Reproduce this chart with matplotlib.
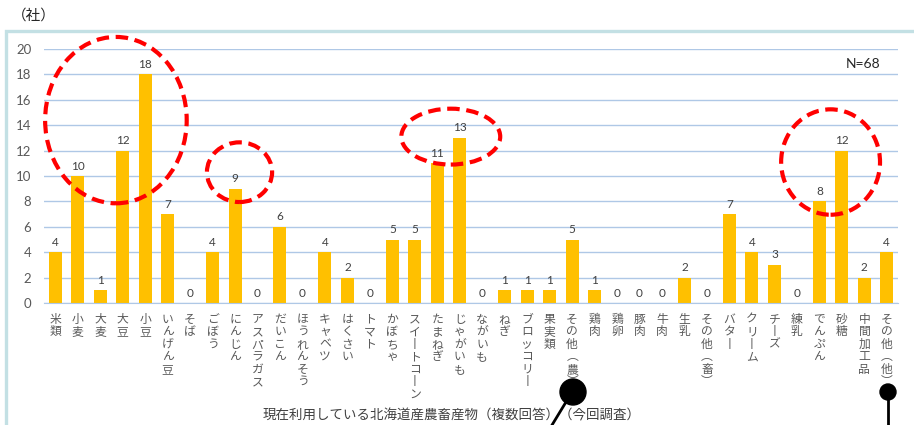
import matplotlib.pyplot as plt
from matplotlib.patches import Ellipse, Rectangle
from matplotlib.lines import Line2D

plt.rcParams["font.family"] = ["Noto Sans CJK JP", "DejaVu Sans"]

# 現在利用している北海道産農畜産物（複数回答）
categories = [
    "米類", "小麦", "大麦", "大豆", "小豆", "いんげん豆", "そば", "ごぼう",
    "にんじん", "アスパラガス", "だいこん", "ほうれんそう", "キャベツ", "はくさい",
    "トマト", "かぼちゃ", "スイートコーン", "たまねぎ", "じゃがいも", "ながいも",
    "ねぎ", "ブロッコリー", "果実類", "その他(農)", "鶏肉", "鶏卵", "豚肉", "牛肉",
    "生乳", "その他(畜)", "バター", "クリーム", "チーズ", "練乳", "でんぷん",
    "砂糖", "中間加工品", "その他(他)",
]
counts = [
    4, 10, 1, 12, 18, 7, 0, 4,
    9, 0, 6, 0, 4, 2,
    0, 5, 5, 11, 13, 0,
    1, 1, 1, 5, 1, 0, 0, 0,
    2, 0, 7, 4, 3, 0, 8,
    12, 2, 4,
]
n_total = 68

# highlighted groups: (center index, center value, width, height)
highlights = [
    (2.7, 14.4, 6.3, 13.1),
    (8.2, 10.3, 2.9, 4.7),
    (17.6, 13.1, 4.4, 4.4),
    (34.5, 11.1, 4.4, 8.3),
]

GRID = "#AFC8E6"
GRAY = "#595959"


def vertical(label):
    # stack characters top to bottom, with vertical forms for brackets / long vowel
    swap = {"\u30fc": "\u4e28", "(": "\ufe35", ")": "\ufe36"}
    return "\n".join(swap.get(c, c) for c in label)


W, H = 914, 425
fig = plt.figure(figsize=(W / 100, H / 100), dpi=100)

# outer frame
fig.add_artist(Rectangle((6 / W, -0.1), 1.2, 1.1 - 31 / H,
                         transform=fig.transFigure, facecolor="none",
                         edgecolor="#C3E0E4", linewidth=2.4))

ax = fig.add_axes([44 / W, 122 / H, 854 / W, 254 / H])
x = list(range(len(categories)))
bars = ax.bar(x, counts, width=0.58, color="#FFC000", zorder=2)

for xi, v in zip(x, counts):
    ax.text(xi, v + 0.35, str(v), ha="center", va="bottom",
            fontsize=8.5, color="#404040", family=["Lato", "DejaVu Sans"])

ax.set_xlim(-0.5, len(categories) - 0.5)
ax.set_ylim(0, 20)
ax.set_yticks(range(0, 21, 2))
ax.yaxis.grid(True, color=GRID, linewidth=1)
ax.set_axisbelow(True)
for s in ["top", "right", "left"]:
    ax.spines[s].set_visible(False)
ax.spines["bottom"].set_color(GRID)
ax.tick_params(axis="y", length=0, pad=9, labelsize=9.5, labelcolor=GRAY)
for lbl in ax.get_yticklabels():
    lbl.set_family(["Lato", "DejaVu Sans"])
ax.set_xticks(x)
ax.set_xticklabels([vertical(c) for c in categories], fontsize=8.5,
                   color=GRAY, va="top", linespacing=0.95)
ax.tick_params(axis="x", length=0, pad=7)

ax.text(0.979, 0.94, f"N={n_total}", transform=ax.transAxes, ha="right",
        va="center", fontsize=10, color="#262626", family=["Lato", "DejaVu Sans"])

# red dashed rings
for cx, cy, ew, eh in highlights:
    ax.add_patch(Ellipse((cx, cy), ew, eh, facecolor="none", edgecolor="#FF0000",
                         linewidth=3, linestyle=(0, (3, 1.6)), clip_on=False,
                         zorder=4))

fig.text(12 / W, 1 - 16 / H, "（社）", fontsize=10.5, color="#262626",
         ha="left", va="center")
fig.text(452 / W, 1 - 415 / H, "現在利用している北海道産農畜産物（複数回答）（今回調査）",
         fontsize=9.7, color="#404040", ha="center", va="center")

# pin markers at the bottom
fig.add_artist(Ellipse((573 / W, 1 - 392 / H), 26 / W, 26 / H,
                       transform=fig.transFigure, color="black", zorder=6))
fig.add_artist(Line2D([566 / W, 549 / W], [1 - 402 / H, 1 - 430 / H],
                      transform=fig.transFigure, color="black", lw=2, zorder=6))
fig.add_artist(Ellipse((888 / W, 1 - 392 / H), 16 / W, 16 / H,
                       transform=fig.transFigure, color="black", zorder=6))
fig.add_artist(Line2D([888 / W, 888 / W], [1 - 392 / H, 1 - 430 / H],
                      transform=fig.transFigure, color="black", lw=2, zorder=6))

plt.savefig("out.png", dpi=100)
